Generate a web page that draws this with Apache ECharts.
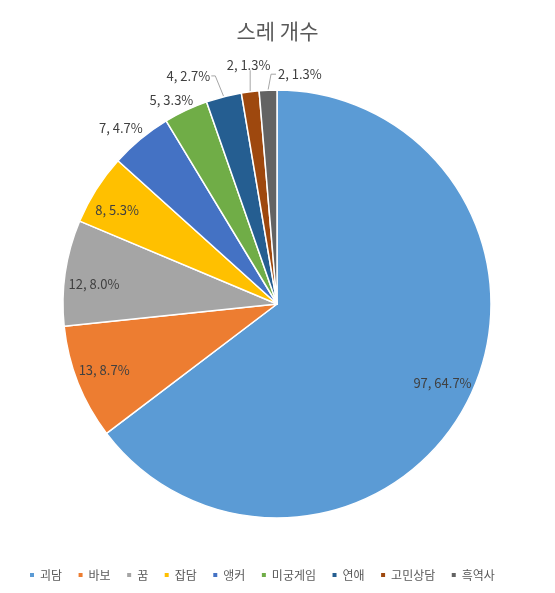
<!DOCTYPE html>
<html>
<head>
<meta charset="utf-8">
<script src="https://cdn.jsdelivr.net/npm/echarts@6/dist/echarts.min.js"></script>
<style>
  html, body { margin: 0; padding: 0; background: #fff; }
  #chart { width: 555px; height: 593px; }
</style>
</head>
<body>
<div id="chart"></div>
<script>
const categories = ['괴담', '바보', '꿈', '잡담', '앵커', '미궁게임', '연애', '고민상담', '흑역사']
const counts = [97, 13, 12, 8, 7, 5, 4, 2, 2]
const percents = ['64.7%', '8.7%', '8.0%', '5.3%', '4.7%', '3.3%', '2.7%', '1.3%', '1.3%']
const colors = ['#5B9BD5', '#ED7D31', '#A5A5A5', '#FFC000', '#4472C4', '#70AD47', '#255E91', '#9E480E', '#636363']

// slices that get their label inside the pie (the rest go outside)
const insideLabels = [0, 1, 2, 3]
// nudges for the labels, like the hand-placed ones in the original
const outsideNudge = { 4: [15, -6], 5: [19, -5], 6: [-3, -15], 7: [30, -21], 8: [63, -10] }
const insideNudge = { 0: [-2, -4], 1: [1, -3], 2: [2, 7], 3: [-2, 6] }

const CX = 277, CY = 304, R = 214
const font = "'Noto Sans CJK KR', 'Noto Sans', sans-serif"
const labelText = (i) => `${counts[i]}, ${percents[i]}`
const total = counts.reduce((a, b) => a + b, 0)

// point on the rim at the middle of slice i
function rimPoint(i) {
  const before = counts.slice(0, i).reduce((a, b) => a + b, 0)
  const a = (2 * Math.PI * (before + counts[i] / 2)) / total
  return [CX + R * Math.sin(a), CY - R * Math.cos(a)]
}

// leader lines: from the rim to the moved label
function leader(i, r) {
  const e = rimPoint(i)
  const midY = r.y + r.height / 2
  if (i === 6) return [e, [r.x + r.width + 5, midY], [r.x + r.width + 1, midY]]
  if (i === 7) return [e, [e[0], r.y + r.height - 1], [e[0], r.y + r.height - 1]]
  if (i === 8) return [e, [e[0] + 3, midY], [r.x - 2, midY]]
  return null
}

const mainData = categories.map((name, i) => ({
  name,
  value: counts[i],
  itemStyle: { color: colors[i] },
  label: { show: !insideLabels.includes(i), position: 'outside' },
  labelLine: { show: i >= 6 },
}))

// transparent ring used only to place the inside labels near the rim
const ringData = categories.map((name, i) => ({
  name,
  value: counts[i],
  label: { show: insideLabels.includes(i) },
}))

const chart = echarts.init(document.getElementById('chart'))

chart.setOption({
  backgroundColor: '#fff',
  animation: false,
  color: colors,
  title: {
    text: '스레 개수',
    left: 'center',
    top: 16,
    textStyle: { fontFamily: font, fontSize: 21, fontWeight: 'normal', color: '#595959' },
  },
  legend: {
    bottom: 7,
    left: 23,
    icon: 'rect',
    itemWidth: 6,
    itemHeight: 6,
    itemGap: 14.5,
    textStyle: { fontFamily: font, fontSize: 12, color: '#595959' },
    data: categories,
  },
  series: [
    {
      type: 'pie',
      center: [CX, CY],
      radius: [0, R],
      startAngle: 90,
      clockwise: true,
      avoidLabelOverlap: false,
      itemStyle: { borderColor: '#fff', borderWidth: 1.5 },
      label: {
        formatter: (p) => labelText(p.dataIndex),
        fontFamily: font,
        fontSize: 13,
        color: '#404040',
      },
      labelLine: { length: 6, length2: 4, lineStyle: { color: '#a6a6a6', width: 1 } },
      labelLayout: (p) => {
        const n = outsideNudge[p.dataIndex]
        if (!n) return {}
        const r = p.labelRect
        const moved = { x: r.x + n[0], y: r.y + n[1], width: r.width, height: r.height }
        const pts = leader(p.dataIndex, moved)
        const out = { dx: n[0], dy: n[1] }
        if (pts) out.labelLinePoints = pts
        return out
      },
      emphasis: { disabled: true },
      data: mainData,
    },
    {
      type: 'pie',
      center: [CX, CY],
      radius: [154, R],
      startAngle: 90,
      clockwise: true,
      silent: true,
      itemStyle: { color: 'transparent' },
      label: {
        position: 'inside',
        formatter: (p) => labelText(p.dataIndex),
        fontFamily: font,
        fontSize: 13,
        color: '#404040',
      },
      labelLine: { show: false },
      labelLayout: (p) => {
        const n = insideNudge[p.dataIndex]
        return n ? { dx: n[0], dy: n[1] } : {}
      },
      emphasis: { disabled: true },
      data: ringData,
    },
  ],
})
</script>
</body>
</html>
